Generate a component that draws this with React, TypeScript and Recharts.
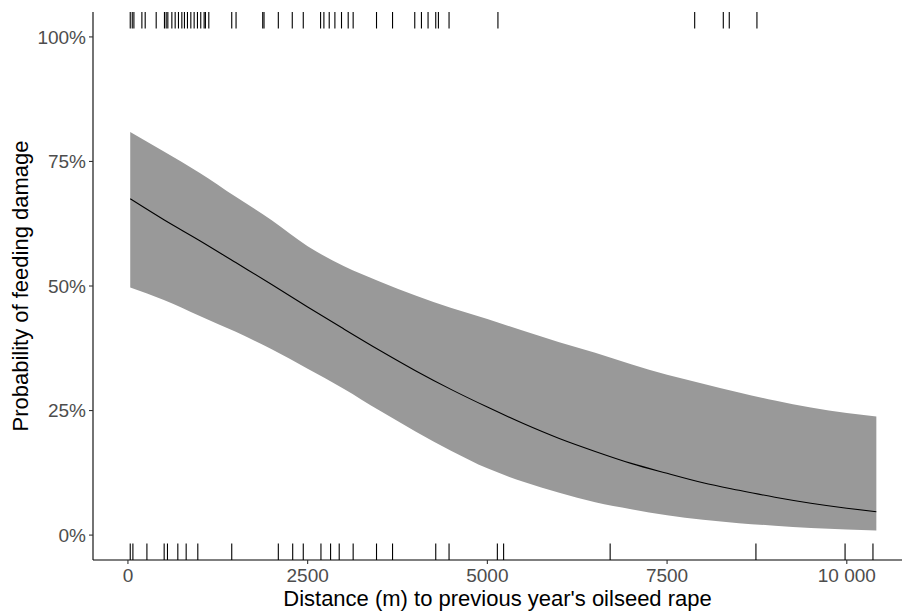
import { ComposedChart, Area, Line, Scatter, XAxis, YAxis } from 'recharts'

// distance (m) along the fitted curve
const distance = [32, 500, 1000, 1500, 2000, 2500, 3000, 3500, 4000, 4500, 5000, 5500, 6000, 6500, 7000, 7500, 8000, 8500, 9000, 9500, 10000, 10411]
// fitted probability and confidence band
const fitted = [0.675, 0.633, 0.591, 0.547, 0.503, 0.458, 0.414, 0.371, 0.33, 0.292, 0.257, 0.224, 0.194, 0.168, 0.144, 0.124, 0.105, 0.09, 0.076, 0.064, 0.054, 0.047]
const upper = [0.809, 0.77, 0.727, 0.679, 0.632, 0.58, 0.54, 0.509, 0.481, 0.456, 0.434, 0.41, 0.387, 0.366, 0.343, 0.322, 0.304, 0.286, 0.27, 0.256, 0.245, 0.238]
const lower = [0.497, 0.472, 0.44, 0.408, 0.373, 0.334, 0.294, 0.25, 0.208, 0.169, 0.134, 0.107, 0.085, 0.066, 0.052, 0.04, 0.031, 0.024, 0.019, 0.014, 0.011, 0.009]

// observed fields: with damage (top rug) and without (bottom rug)
const damaged = [32, 60, 83, 194, 240, 393, 508, 532, 555, 611, 657, 703, 750, 786, 828, 875, 921, 967, 1013, 1060, 1078, 1125, 1444, 1504, 1875, 1893, 2092, 2286, 2439, 2680, 2726, 2800, 2879, 2971, 3064, 3133, 3458, 3681, 3990, 4083, 4175, 4282, 4319, 4467, 5147, 7884, 8282, 8365, 8750]
const undamaged = [32, 69, 264, 504, 550, 694, 810, 972, 1444, 2092, 2292, 2439, 2685, 2819, 2939, 3133, 3458, 3681, 4282, 4467, 5139, 5226, 6708, 8736, 9976, 10364]

const xTicks = [0, 2500, 5000, 7500, 10000]
const yTicks = [0, 0.25, 0.5, 0.75, 1]

const Y_MIN = -0.05
const Y_MAX = 1.05

const curveData = distance.map((x, i) => ({ x, fit: fitted[i], band: [lower[i], upper[i]] }))
const topRug = damaged.map((x) => ({ x, y: Y_MAX }))
const bottomRug = undamaged.map((x) => ({ x, y: Y_MIN }))

const FONT = '"Liberation Sans", Arial, sans-serif'

const RugTick = (props: any) => {
  const { cx, cy, payload } = props
  if (cx == null || cy == null) return null
  const dir = payload.y > 0.5 ? 1 : -1
  return <line x1={cx} x2={cx} y1={cy} y2={cy + dir * 16.5} stroke="#000" strokeWidth={1.1} />
}

const fmtX = (v: number) => (v >= 10000 ? '10 000' : String(v))
const fmtY = (v: number) => `${Math.round(v * 100)}%`

export default function App() {
  return (
    <div style={{ position: 'absolute', left: 0, top: 0, width: 903, height: 611, background: '#fff', fontFamily: FONT }}>
      <ComposedChart width={903} height={611} data={curveData} margin={{ top: 12, right: 1, left: 0, bottom: 0 }}>
        <XAxis
          type="number"
          dataKey="x"
          domain={[-486, 10768]}
          allowDataOverflow
          ticks={xTicks}
          tickFormatter={fmtX}
          height={51}
          tickSize={4}
          tickMargin={5}
          axisLine={{ stroke: '#000', strokeWidth: 1.1 }}
          tickLine={{ stroke: '#333', strokeWidth: 1.1 }}
          tick={{ fill: '#4D4D4D', fontSize: 19, fontFamily: FONT }}
          label={{ value: "Distance (m) to previous year's oilseed rape", position: 'insideBottom', offset: 5, fill: '#000', fontSize: 22, fontFamily: FONT }}
        />
        <YAxis
          type="number"
          domain={[Y_MIN, Y_MAX]}
          allowDataOverflow
          ticks={yTicks}
          tickFormatter={fmtY}
          width={93}
          tickSize={4}
          tickMargin={3}
          axisLine={{ stroke: '#000', strokeWidth: 1.1 }}
          tickLine={{ stroke: '#333', strokeWidth: 1.1 }}
          tick={{ fill: '#4D4D4D', fontSize: 19, fontFamily: FONT }}
          label={{ value: 'Probability of feeding damage', angle: -90, position: 'center', dx: -26, fill: '#000', fontSize: 22, fontFamily: FONT }}
        />
        <Area type="monotone" dataKey="band" fill="#999999" fillOpacity={1} stroke="none" isAnimationActive={false} />
        <Line type="monotone" dataKey="fit" stroke="#000" strokeWidth={1.1} dot={false} isAnimationActive={false} />
        <Scatter data={topRug} dataKey="y" shape={RugTick} isAnimationActive={false} />
        <Scatter data={bottomRug} dataKey="y" shape={RugTick} isAnimationActive={false} />
      </ComposedChart>
    </div>
  )
}
